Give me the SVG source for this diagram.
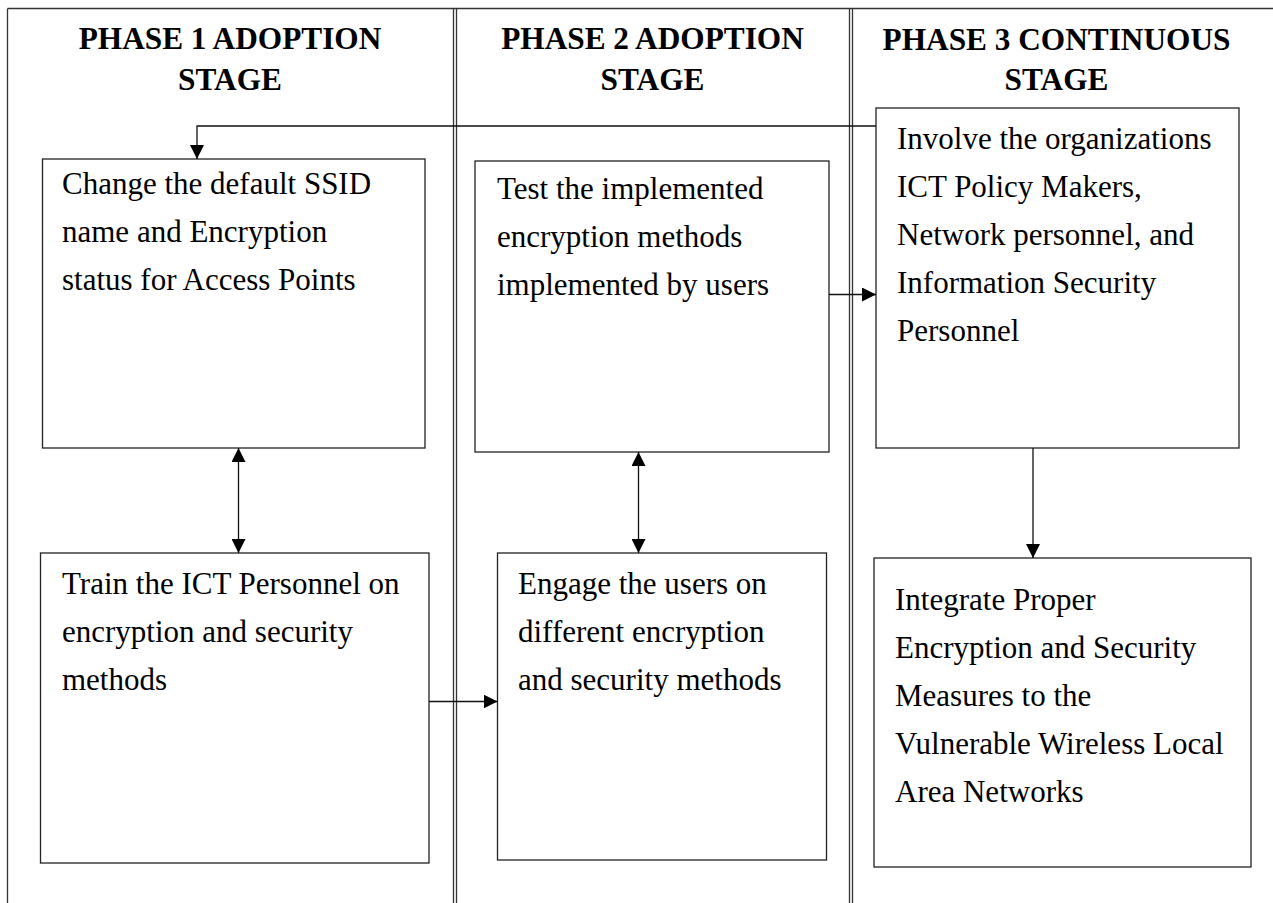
<svg xmlns="http://www.w3.org/2000/svg" width="1273" height="903" viewBox="0 0 1273 903">
<defs>
<style>
.frame{fill:none;stroke:#333;stroke-width:1.3}
.box{fill:#fff;stroke:#222;stroke-width:1.3}
.head{font-family:"Liberation Serif","Times New Roman",serif;font-weight:bold;font-size:31.3px;fill:#000;text-anchor:middle}
.body{font-family:"Liberation Serif","Times New Roman",serif;font-size:31px;fill:#000}
.conn{fill:none;stroke:#111;stroke-width:1.3}
</style>
<marker id="ah" markerUnits="userSpaceOnUse" markerWidth="14" markerHeight="14" refX="14" refY="7" orient="auto-start-reverse">
<path d="M0,0 L14,7 L0,14 z" fill="#000"/>
</marker>
</defs>
<rect width="1273" height="903" fill="#fff"/>
<g id="frame">
<line class="frame" x1="7.5" y1="8.5" x2="1273" y2="8.5"/>
<line class="frame" x1="7.5" y1="8.5" x2="7.5" y2="903"/>
<line class="frame" x1="453.5" y1="8.5" x2="453.5" y2="903"/>
<line class="frame" x1="456.5" y1="8.5" x2="456.5" y2="903"/>
<line class="frame" x1="849.5" y1="8.5" x2="849.5" y2="903"/>
<line class="frame" x1="852.5" y1="8.5" x2="852.5" y2="903"/>
</g>
<g id="heading1">
<text class="head" x="230" y="49">PHASE 1 ADOPTION</text>
<text class="head" x="230" y="90">STAGE</text>
</g>
<g id="heading2">
<text class="head" x="652.5" y="49">PHASE 2 ADOPTION</text>
<text class="head" x="652.5" y="90">STAGE</text>
</g>
<g id="heading3">
<text class="head" x="1056.5" y="50">PHASE 3 CONTINUOUS</text>
<text class="head" x="1056.5" y="90">STAGE</text>
</g>
<g id="node-ssid">
<rect class="box" x="42.5" y="159" width="382.5" height="289"/>
<text class="body" x="62" y="194">Change the default SSID</text>
<text class="body" x="62" y="242">name and Encryption</text>
<text class="body" x="62" y="290">status for Access Points</text>
</g>
<g id="node-train">
<rect class="box" x="40.5" y="553" width="388.5" height="310"/>
<text class="body" x="62" y="594">Train the ICT Personnel on</text>
<text class="body" x="62" y="642">encryption and security</text>
<text class="body" x="62" y="690">methods</text>
</g>
<g id="node-test">
<rect class="box" x="475" y="161" width="354" height="291"/>
<text class="body" x="497" y="199">Test the implemented</text>
<text class="body" x="497" y="247">encryption methods</text>
<text class="body" x="497" y="295">implemented by users</text>
</g>
<g id="node-engage">
<rect class="box" x="497.5" y="553" width="329" height="307"/>
<text class="body" x="518" y="594">Engage the users on</text>
<text class="body" x="518" y="642">different encryption</text>
<text class="body" x="518" y="690">and security methods</text>
</g>
<g id="node-involve">
<rect class="box" x="876" y="108" width="363" height="340"/>
<text class="body" x="897" y="149">Involve the organizations</text>
<text class="body" x="897" y="197">ICT Policy Makers,</text>
<text class="body" x="897" y="245">Network personnel, and</text>
<text class="body" x="897" y="293">Information Security</text>
<text class="body" x="897" y="341">Personnel</text>
</g>
<g id="node-integrate">
<rect class="box" x="874" y="558" width="377" height="309"/>
<text class="body" x="895" y="610">Integrate Proper</text>
<text class="body" x="895" y="658">Encryption and Security</text>
<text class="body" x="895" y="706">Measures to the</text>
<text class="body" x="895" y="754">Vulnerable Wireless Local</text>
<text class="body" x="895" y="802">Area Networks</text>
</g>
<g id="connectors">
<polyline class="conn" points="876,126 197,126 197,159" marker-end="url(#ah)"/>
<line class="conn" x1="238.5" y1="448" x2="238.5" y2="553" marker-start="url(#ah)" marker-end="url(#ah)"/>
<line class="conn" x1="638.5" y1="452" x2="638.5" y2="553" marker-start="url(#ah)" marker-end="url(#ah)"/>
<line class="conn" x1="829" y1="294.5" x2="876" y2="294.5" marker-end="url(#ah)"/>
<line class="conn" x1="1033" y1="448" x2="1033" y2="558" marker-end="url(#ah)"/>
<line class="conn" x1="429" y1="701.5" x2="497.5" y2="701.5" marker-end="url(#ah)"/>
</g>
</svg>
